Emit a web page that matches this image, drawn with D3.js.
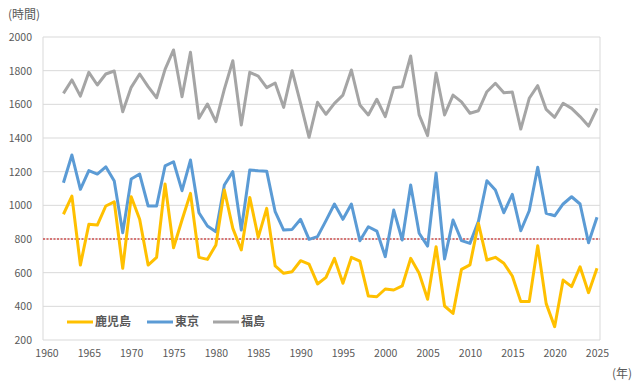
<!DOCTYPE html>
<html lang="ja">
<head>
<meta charset="UTF-8">
<title>日照時間</title>
<script src="https://d3js.org/d3.v7.min.js"></script>
<style>
  body { margin: 0; background: #fff; }
  text { font-family: "Noto Sans CJK JP", "Noto Sans", sans-serif; fill: #595959; }
</style>
</head>
<body>
<div id="chart"></div>
<script>
// data: years 1962-2025
var years = d3.range(1962, 2026);

var kagoshima = [947, 1055, 645, 887, 883, 996, 1021, 626, 1051, 917,
                 645, 691, 1127, 748, 913, 1071, 691, 679, 764, 1091,
                 863, 735, 1047, 810, 982, 640, 596, 606, 671, 651,
                 533, 572, 685, 537, 691, 669, 461, 457, 503, 497,
                 521, 685, 596, 442, 754, 402, 358, 620, 646, 893,
                 675, 691, 656, 580, 428, 428, 760, 416, 279, 556,
                 517, 635, 481, 626];

var tokyo = [1134, 1299, 1095, 1206, 1186, 1229, 1144, 837, 1156, 1186,
             996, 996, 1234, 1259, 1087, 1269, 956, 877, 843, 1121,
             1200, 853, 1210, 1205, 1203, 962, 853, 857, 917, 798,
             814, 909, 1008, 917, 1008, 790, 873, 847, 695, 972,
             794, 1121, 834, 758, 1192, 681, 913, 790, 774, 905,
             1146, 1091, 956, 1065, 849, 968, 1226, 953, 938, 1008,
             1051, 1008, 778, 929];

var fukushima = [1665, 1745, 1649, 1790, 1715, 1780, 1798, 1556, 1701, 1780,
                 1705, 1639, 1808, 1923, 1645, 1909, 1517, 1602, 1497, 1690,
                 1859, 1477, 1790, 1768, 1699, 1727, 1582, 1800, 1606, 1404,
                 1612, 1541, 1606, 1655, 1804, 1596, 1537, 1630, 1527, 1699,
                 1705, 1887, 1537, 1414, 1786, 1537, 1655, 1615, 1547, 1562,
                 1675, 1725, 1669, 1673, 1453, 1636, 1711, 1570, 1523, 1606,
                 1576, 1527, 1471, 1576];

var seriesNames = ["鹿児島", "東京", "福島"];
var seriesColors = ["#FFC000", "#5B9BD5", "#A5A5A5"];
var yTicks = [200, 400, 600, 800, 1000, 1200, 1400, 1600, 1800, 2000];
var xTicks = [1960, 1965, 1970, 1975, 1980, 1985, 1990, 1995, 2000, 2005, 2010, 2015, 2020, 2025];
var refLine = 800;

var margin = {top: 37, left: 43},
    width = 557,
    height = 303;

var svg = d3.select("#chart").append("svg")
    .attr("width", 641)
    .attr("height", 385);

var g = svg.append("g")
    .attr("transform", "translate(" + margin.left + "," + margin.top + ")");

var x = d3.scaleLinear().domain([1960, 2025]).range([3.5, 554]);
var y = d3.scaleLinear().domain([200, 2000]).range([height, 0]);

// gridlines
g.selectAll(".grid")
    .data(yTicks)
    .enter().append("line")
    .attr("x1", 0).attr("x2", width)
    .attr("y1", function(d) { return y(d); })
    .attr("y2", function(d) { return y(d); })
    .attr("stroke", "#D9D9D9")
    .attr("stroke-width", 1);

// frame sides
g.append("line").attr("x1", 0).attr("x2", 0).attr("y1", 0).attr("y2", height)
    .attr("stroke", "#D9D9D9");
g.append("line").attr("x1", width).attr("x2", width).attr("y1", 0).attr("y2", height)
    .attr("stroke", "#D9D9D9");

// y axis labels
var yAxis = g.append("g").call(d3.axisLeft(y).tickValues(yTicks).tickFormat(d3.format("d")).tickSize(0).tickPadding(11));
yAxis.select(".domain").remove();
yAxis.selectAll("text").style("font-size", "10.5px").attr("fill", "#595959");

// x axis labels
var xAxis = g.append("g")
    .attr("transform", "translate(0," + height + ")")
    .call(d3.axisBottom(x).tickValues(xTicks).tickFormat(d3.format("d")).tickSize(0).tickPadding(10));
xAxis.select(".domain").remove();
xAxis.selectAll("text").style("font-size", "10.5px").attr("fill", "#595959");

// 800 reference line
g.append("line")
    .attr("x1", 0).attr("x2", width)
    .attr("y1", y(refLine)).attr("y2", y(refLine))
    .attr("stroke", "#C00000")
    .attr("stroke-width", 1)
    .attr("stroke-dasharray", "2,1.5");

// lines
var line = d3.line()
    .x(function(d, i) { return x(years[i]); })
    .y(function(d) { return y(d); });

var allSeries = [kagoshima, tokyo, fukushima];
// draw gray first, then blue, then yellow on top
[2, 1, 0].forEach(function(k) {
    g.append("path")
        .datum(allSeries[k])
        .attr("d", line)
        .attr("fill", "none")
        .attr("stroke", seriesColors[k])
        .attr("stroke-width", 3)
        .attr("stroke-linejoin", "round");
});

// legend
var legendX = [67, 147, 213];
var leg = svg.append("g").attr("transform", "translate(0,322)");
seriesNames.forEach(function(name, i) {
    leg.append("line")
        .attr("x1", legendX[i]).attr("x2", legendX[i] + 26)
        .attr("y1", 0).attr("y2", 0)
        .attr("stroke", seriesColors[i])
        .attr("stroke-width", 3);
    leg.append("text")
        .attr("x", legendX[i] + 28)
        .attr("y", 0)
        .attr("dy", "0.35em")
        .style("font-size", "12px")
        .style("font-weight", "bold")
        .text(name);
});

// unit labels
svg.append("text").attr("x", 8).attr("y", 19)
    .style("font-size", "12px").text("(時間)");
svg.append("text").attr("x", 612).attr("y", 378)
    .style("font-size", "12px").text("(年)");
</script>
</body>
</html>
